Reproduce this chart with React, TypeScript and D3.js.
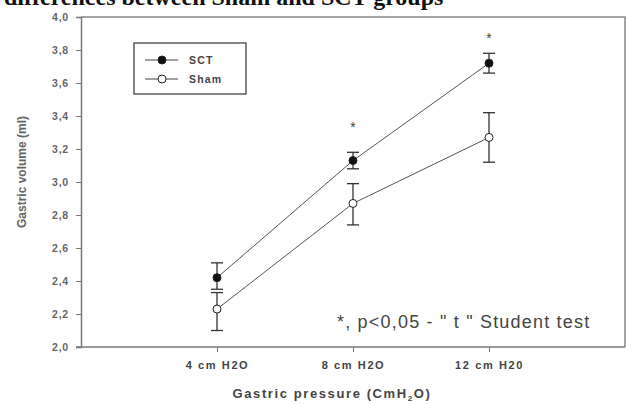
import { useEffect, useRef } from 'react';
import * as d3 from 'd3';

const categories = ['4 cm H2O', '8 cm H2O', '12 cm H20'];
const sctMean = [2.42, 3.13, 3.72];
const sctHi = [2.51, 3.18, 3.78];
const sctLo = [2.35, 3.08, 3.66];
const shamMean = [2.23, 2.87, 3.27];
const shamHi = [2.33, 2.99, 3.42];
const shamLo = [2.10, 2.74, 3.12];
// asterisk level for significant points (null = no star)
const starLevel = [null, 3.35, 3.89];
const yTicks = [2.0, 2.2, 2.4, 2.6, 2.8, 3.0, 3.2, 3.4, 3.6, 3.8, 4.0];

export default function App() {
  const svgRef = useRef<SVGSVGElement>(null);

  useEffect(() => {
    if (!svgRef.current) return;
    const svg = d3.select(svgRef.current);
    svg.selectAll('*').remove();

    const W = 626, H = 404;
    const left = 81, right = 625, top = 17, bottom = 347;
    svg.attr('width', W).attr('height', H);

    const x = d3.scaleLinear().domain([0, 4]).range([left, right]);
    const y = d3.scaleLinear().domain([2, 4]).range([bottom, top]);
    const gray = '#666';
    const sans = 'Arial, "Liberation Sans", sans-serif';

    // title, cut off by the top of the image
    svg.append('text')
      .attr('x', 4).attr('y', 5)
      .style('font-family', '"Liberation Serif", "Times New Roman", serif')
      .style('font-weight', 'bold')
      .style('font-size', '24px')
      .style('fill', '#111')
      .text('differences between Sham and SCT  groups');

    // frame
    svg.append('path')
      .attr('d', `M${left},${top}H${right}V${bottom}`)
      .attr('fill', 'none').attr('stroke', '#888').attr('stroke-width', 1.5);

    // y axis
    const yAxis = svg.append('g')
      .attr('transform', `translate(${left},0)`)
      .call(d3.axisLeft(y).tickValues(yTicks).tickSize(5).tickPadding(7)
        .tickFormat(d => d3.format('.1f')(d as number).replace('.', ',')));
    yAxis.select('.domain').attr('stroke', '#777').attr('stroke-width', 1.5);
    yAxis.selectAll('line').attr('stroke', '#777');
    yAxis.selectAll('text')
      .style('font-family', sans)
      .style('font-size', '10.5px').style('font-weight', 'bold')
      .style('letter-spacing', '0.8px').style('fill', gray);

    // x axis
    const xAxis = svg.append('g')
      .attr('transform', `translate(0,${bottom})`)
      .call(d3.axisBottom(x).tickValues([1, 2, 3]).tickSize(5).tickPadding(9)
        .tickFormat((d) => categories[(d as number) - 1]));
    xAxis.select('.domain').attr('d', `M${left - 5},0H${right}`)
      .attr('stroke', '#777').attr('stroke-width', 1.5);
    xAxis.selectAll('line').attr('stroke', '#777');
    xAxis.selectAll('text')
      .style('font-family', sans)
      .style('font-size', '11px').style('font-weight', 'bold')
      .style('letter-spacing', '1.6px').style('fill', '#444');

    // axis titles
    const xt = svg.append('text')
      .attr('x', 332).attr('y', 398)
      .attr('text-anchor', 'middle')
      .style('font-family', sans)
      .style('font-size', '13px').style('font-weight', 'bold')
      .style('letter-spacing', '1.6px').style('fill', '#444');
    xt.append('tspan').text('Gastric pressure (CmH');
    xt.append('tspan').attr('dy', 3).style('font-size', '8px').text('2');
    xt.append('tspan').attr('dy', -3).text('O)');

    svg.append('text')
      .attr('transform', `translate(26,172) rotate(-90)`)
      .attr('text-anchor', 'middle')
      .style('font-family', sans)
      .style('font-size', '12px').style('font-weight', 'bold')
      .style('fill', gray)
      .text('Gastric volume (ml)');

    const series = [
      { mean: sctMean, hi: sctHi, lo: sctLo, fill: '#111' },
      { mean: shamMean, hi: shamHi, lo: shamLo, fill: '#fff' },
    ];
    const line = d3.line<number>().x((_, i) => x(i + 1)).y(d => y(d));

    series.forEach(s => {
      svg.append('path')
        .attr('d', line(s.mean))
        .attr('fill', 'none').attr('stroke', '#555').attr('stroke-width', 1);
      s.mean.forEach((m, i) => {
        const cx = x(i + 1);
        const g = svg.append('g').attr('stroke', '#333').attr('stroke-width', 1.3);
        g.append('line').attr('x1', cx).attr('x2', cx).attr('y1', y(s.hi[i])).attr('y2', y(s.lo[i]));
        g.append('line').attr('x1', cx - 6).attr('x2', cx + 6).attr('y1', y(s.hi[i])).attr('y2', y(s.hi[i]));
        g.append('line').attr('x1', cx - 6).attr('x2', cx + 6).attr('y1', y(s.lo[i])).attr('y2', y(s.lo[i]));
      });
    });
    series.forEach(s => {
      s.mean.forEach((m, i) => {
        svg.append('circle')
          .attr('cx', x(i + 1)).attr('cy', y(m)).attr('r', 4)
          .attr('fill', s.fill).attr('stroke', '#222').attr('stroke-width', 1);
      });
    });

    // significance stars
    starLevel.forEach((v, i) => {
      if (v == null) return;
      svg.append('text')
        .attr('x', x(i + 1)).attr('y', y(v) + 8)
        .attr('text-anchor', 'middle')
        .style('font-family', sans)
        .style('font-size', '14px').style('fill', '#444')
        .text('*');
    });

    // legend
    const lg = svg.append('g').attr('transform', 'translate(134,43)');
    lg.append('rect').attr('width', 112).attr('height', 51)
      .attr('fill', '#fff').attr('stroke', '#444').attr('stroke-width', 1.3);
    series.forEach((s, i) => {
      const ly = 17 + i * 19;
      lg.append('line').attr('x1', 11).attr('x2', 44).attr('y1', ly).attr('y2', ly)
        .attr('stroke', '#444').attr('stroke-width', 1);
      lg.append('circle').attr('cx', 28).attr('cy', ly).attr('r', 4)
        .attr('fill', s.fill).attr('stroke', '#222');
      lg.append('text').attr('x', 55).attr('y', ly + 4)
        .style('font-family', sans)
        .style('font-size', '10.5px').style('font-weight', 'bold')
        .style('letter-spacing', '1.2px').style('fill', '#444')
        .text(i === 0 ? 'SCT' : 'Sham');
    });

    // annotation
    svg.append('text')
      .attr('x', 337).attr('y', 328)
      .style('font-family', sans)
      .style('font-size', '18px').style('fill', '#444')
      .style('letter-spacing', '1.2px')
      .text('*, p<0,05 - " t " Student test');
  }, []);

  return (
    <div style={{ position: 'absolute', left: 0, top: 0 }}>
      <svg ref={svgRef} style={{ display: 'block' }} />
    </div>
  );
}
